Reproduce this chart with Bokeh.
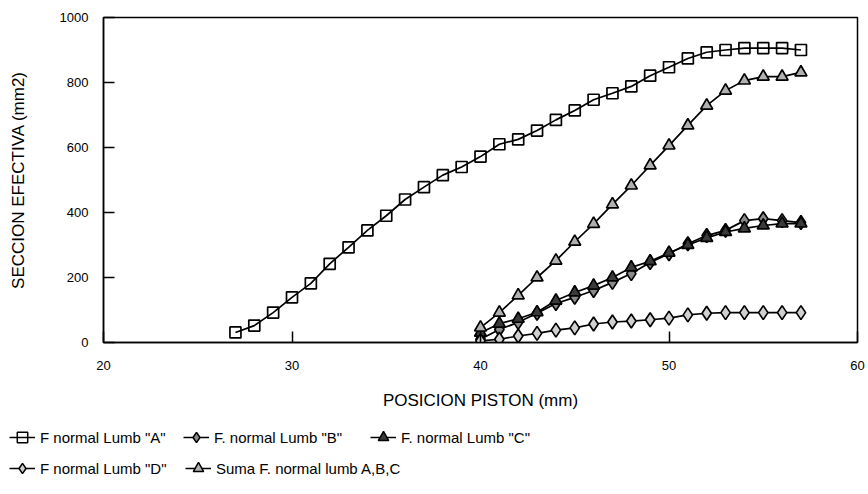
from bokeh.plotting import figure
from bokeh.models import Legend, LegendItem, ColumnDataSource, FixedTicker
from bokeh.layouts import column, row
from bokeh.embed import file_html
from bokeh.resources import INLINE

# ---- data ----
x_a = list(range(27, 58))
lumb_a = [31, 52, 92, 139, 182, 242, 293, 345, 390, 440,
          478, 515, 540, 572, 610, 625, 652, 685, 714, 747,
          767, 788, 821, 847, 874, 893, 900, 906, 906, 906, 900]
x_bcd = list(range(40, 58))
lumb_b = [10, 40, 62, 90, 120, 139, 160, 185, 212, 246, 273, 304, 329, 345, 375, 381, 375, 369]
lumb_c = [30, 58, 73, 93, 129, 154, 175, 200, 231, 250, 276, 300, 322, 340, 351, 360, 366, 366]
lumb_d = [5, 10, 20, 28, 38, 45, 57, 63, 66, 70, 75, 85, 90, 92, 92, 92, 92, 92]
suma = [46, 92, 145, 200, 252, 310, 365, 425, 483, 545, 606, 668, 729, 775, 806, 818, 818, 831]
x_ticks = [20, 30, 40, 50, 60]
y_ticks = [0, 200, 400, 600, 800, 1000]
labels = ['F normal Lumb "A"', 'F. normal Lumb "B"', 'F. normal Lumb "C"',
          'F normal Lumb "D"', 'Suma F. normal lumb A,B,C']

FONT = "Liberation Sans"

styles = [
    dict(marker="square", size=11, fill_color="white", fill_alpha=0.0),
    dict(marker="diamond", size=14, fill_color="#8a8a8a", fill_alpha=1.0),
    dict(marker="triangle", size=12, fill_color="#3a3a3a", fill_alpha=1.0),
    dict(marker="diamond", size=14, fill_color="#d0d0d0", fill_alpha=1.0),
    dict(marker="triangle", size=12, fill_color="#b0b0b0", fill_alpha=1.0),
]
series = [(x_a, lumb_a), (x_bcd, lumb_b), (x_bcd, lumb_c), (x_bcd, lumb_d), (x_bcd, suma)]

p = figure(width=868, height=420, x_range=(20, 60), y_range=(0, 1000),
           output_backend="svg", toolbar_location=None,
           min_border_left=103, min_border_right=11, min_border_top=17, min_border_bottom=78)
p.xgrid.visible = False
p.ygrid.visible = False
p.outline_line_color = "black"
p.outline_line_width = 1.5
p.background_fill_color = "white"

for (xs, ys), st in zip(series, styles):
    src = ColumnDataSource(dict(x=xs, y=ys))
    p.line("x", "y", source=src, line_color="black", line_width=1.7)
    p.scatter("x", "y", source=src, marker=st["marker"], size=st["size"],
              fill_color=st["fill_color"], fill_alpha=st["fill_alpha"],
              line_color="black", line_width=1.7)

p.xaxis.ticker = FixedTicker(ticks=x_ticks)
p.yaxis.ticker = FixedTicker(ticks=y_ticks)
for ax in (p.xaxis[0], p.yaxis[0]):
    ax.major_tick_in = 11
    ax.major_tick_out = 0
    ax.minor_tick_in = 0
    ax.minor_tick_out = 0
    ax.axis_line_width = 1.5
    ax.major_tick_line_width = 1.5
    ax.major_label_text_font = FONT
    ax.major_label_text_font_size = "13px"
    ax.major_label_text_color = "black"
    ax.axis_label_text_font = FONT
    ax.axis_label_text_font_size = "17px"
    ax.axis_label_text_font_style = "normal"
    ax.axis_label_text_color = "black"
p.xaxis.major_label_standoff = 18
p.yaxis.major_label_standoff = 15
p.xaxis.axis_label = "POSICION PISTON (mm)"
p.yaxis.axis_label = "SECCION EFECTIVA (mm2)"
p.xaxis.axis_label_standoff = 18
p.yaxis.axis_label_standoff = 29

# ---- legend panel (separate strip under the chart) ----
lf = figure(width=868, height=74, x_range=(0, 1), y_range=(0, 1),
            output_backend="svg", toolbar_location=None,
            x_axis_location=None, y_axis_location=None, min_border=0)
lf.xgrid.visible = False
lf.ygrid.visible = False
lf.outline_line_color = None

positions = [(9, 44), (183, 44), (370, 44), (9, 13), (185, 13)]
for lab, st, pos in zip(labels, styles, positions):
    off = ColumnDataSource(dict(x=[-5], y=[-5]))  # sample glyph kept outside the view
    rl = lf.line("x", "y", source=off, line_color="black", line_width=1.5)
    rs = lf.scatter("x", "y", source=off, marker=st["marker"], size=st["size"],
                    fill_color=st["fill_color"], fill_alpha=st["fill_alpha"],
                    line_color="black", line_width=1.5)
    leg = Legend(items=[LegendItem(label=lab, renderers=[rl, rs])], location=pos,
                 glyph_width=26, glyph_height=26, label_height=26, label_standoff=5,
                 padding=0, margin=0, border_line_color=None, background_fill_alpha=0,
                 label_text_font=FONT, label_text_font_size="15px", label_text_color="black")
    lf.add_layout(leg)

layout = column(p, row(lf), spacing=0)
open("out.html", "w").write(file_html(layout, INLINE))
